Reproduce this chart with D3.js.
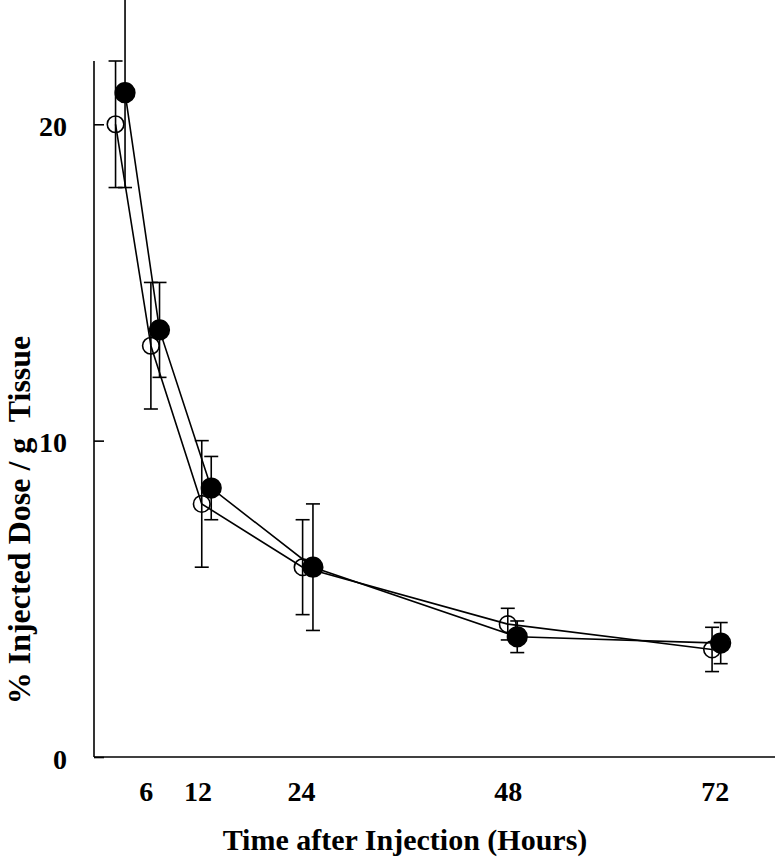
<!DOCTYPE html>
<html>
<head>
<meta charset="utf-8">
<script src="https://cdn.jsdelivr.net/npm/d3@7"></script>
<style>
  body { margin: 0; background: #fff; }
  svg { display: block; }
  text { font-family: "Liberation Serif", "Times New Roman", serif; font-weight: bold; fill: #000; }
</style>
</head>
<body>
<svg id="chart" width="776" height="861"></svg>
<script>
// Open-circle series
const openTimes = [2.5, 6.6, 12.5, 24.2, 48.0, 71.7];
const openValues = [20, 13, 8, 6, 4.2, 3.4];
const openErrors = [2, 2, 2, 1.5, 0.5, 0.7];
// Filled-circle series
const filledTimes = [3.6, 7.6, 13.6, 25.4, 49.1, 72.7];
const filledValues = [21, 13.5, 8.5, 6, 3.8, 3.6];
const filledErrors = [3, 1.5, 1, 2, 0.5, 0.65];
// Tick labels
const xTicks = [6, 12, 24, 48, 72];
const yTicks = [0, 10, 20];
const xTitle = "Time after Injection (Hours)";
const yTitle = "% Injected Dose / g  Tissue";

const svg = d3.select("#chart");
const x = d3.scaleLinear().domain([0, 79]).range([94, 775]);
const y = d3.scaleLinear().domain([0, 22]).range([757, 61]);

// Axes lines
svg.append("line").attr("x1", x(0)).attr("x2", x(0)).attr("y1", y(22)).attr("y2", y(0))
  .attr("stroke", "#000").attr("stroke-width", 1.6);
svg.append("line").attr("x1", x(0)).attr("x2", x(79)).attr("y1", y(0)).attr("y2", y(0))
  .attr("stroke", "#000").attr("stroke-width", 1.6);

// Y ticks (inward) and labels
const yAxis = d3.axisLeft(y).tickValues(yTicks).tickSizeInner(-10).tickSizeOuter(0).tickPadding(27).tickFormat(d3.format("d"));
const gy = svg.append("g").attr("transform", `translate(${x(0)},0)`).call(yAxis);
gy.select(".domain").remove();
gy.selectAll(".tick line").attr("stroke", "#000").attr("stroke-width", 1.6);
gy.selectAll(".tick text").style("font-size", "28px").style("font-family", "Liberation Serif").style("font-weight", "bold").attr("fill", "#000")
  .attr("dy", "0.4em");

// X tick labels (no tick marks)
const xAxis = d3.axisBottom(x).tickValues(xTicks).tickSize(0).tickPadding(24).tickFormat(d3.format("d"));
const gx = svg.append("g").attr("transform", `translate(0,${y(0)})`).call(xAxis);
gx.select(".domain").remove();
gx.selectAll(".tick text").style("font-size", "28px").style("font-family", "Liberation Serif").style("font-weight", "bold").attr("fill", "#000");

// Titles
svg.append("text").attr("x", 405).attr("y", 850).attr("text-anchor", "middle")
  .style("font-size", "30px").text(xTitle);
svg.append("text").attr("transform", "translate(30,520) rotate(-90)").attr("text-anchor", "middle")
  .style("font-size", "32px").style("white-space", "pre").text(yTitle);

function drawSeries(times, values, errors, filled) {
  const data = times.map((t, i) => ({ t, v: values[i], e: errors[i] }));
  const g = svg.append("g");
  g.append("path").datum(data)
    .attr("d", d3.line().x(d => x(d.t)).y(d => y(d.v)))
    .attr("fill", "none").attr("stroke", "#000").attr("stroke-width", 1.6);
  const eb = g.selectAll(".eb").data(data).enter().append("g");
  eb.append("line").attr("x1", d => x(d.t)).attr("x2", d => x(d.t))
    .attr("y1", d => y(d.v + d.e)).attr("y2", d => y(d.v - d.e))
    .attr("stroke", "#000").attr("stroke-width", 1.6);
  [1, -1].forEach(s => {
    eb.append("line").attr("x1", d => x(d.t) - 7).attr("x2", d => x(d.t) + 7)
      .attr("y1", d => y(d.v + s * d.e)).attr("y2", d => y(d.v + s * d.e))
      .attr("stroke", "#000").attr("stroke-width", 1.6);
  });
  g.selectAll(".pt").data(data).enter().append("circle")
    .attr("cx", d => x(d.t)).attr("cy", d => y(d.v))
    .attr("r", filled ? 9.8 : 8.3)
    .attr("fill", filled ? "#000" : "none")
    .attr("stroke", "#000").attr("stroke-width", 1.6);
}
drawSeries(openTimes, openValues, openErrors, false);
drawSeries(filledTimes, filledValues, filledErrors, true);
</script>
</body>
</html>
